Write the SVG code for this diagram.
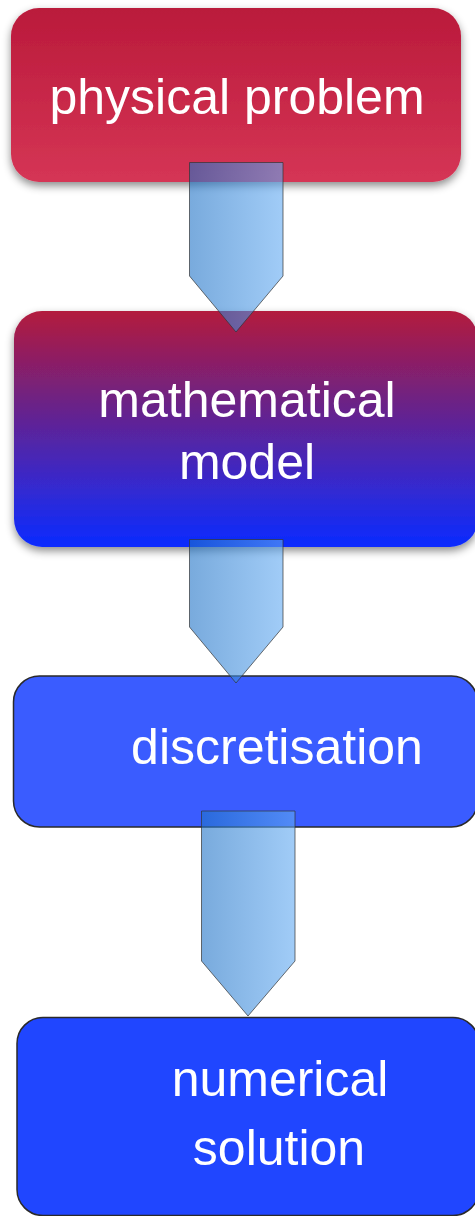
<svg xmlns="http://www.w3.org/2000/svg" width="475" height="1216" viewBox="0 0 475 1216">
<defs>
<linearGradient id="gRed" x1="0" y1="0" x2="0" y2="1">
<stop offset="0" stop-color="#ba1a3b"/>
<stop offset="1" stop-color="#d53555"/>
</linearGradient>
<linearGradient id="gMath" x1="0" y1="0" x2="0" y2="1">
<stop offset="0" stop-color="#b31b3d"/>
<stop offset="0.4" stop-color="#6a2288"/>
<stop offset="0.75" stop-color="#3429d0"/>
<stop offset="1" stop-color="#0a2cff"/>
</linearGradient>
<linearGradient id="gArrow" x1="0" y1="0" x2="1" y2="0">
<stop offset="0" stop-color="#1f72c6"/>
<stop offset="1" stop-color="#62aaf2"/>
</linearGradient>
<filter id="shadow" x="-10%" y="-10%" width="120%" height="130%">
<feDropShadow dx="0" dy="4" stdDeviation="4" flood-color="#000" flood-opacity="0.45"/>
</filter>
<style>
.lbl{font-family:"Liberation Sans",Arial,sans-serif;font-size:50px;fill:#fff;text-anchor:middle}
.arrow{fill:url(#gArrow);fill-opacity:0.6;stroke:#333;stroke-width:1;stroke-opacity:0.7}
.flat{stroke:#2a2a2a;stroke-width:1.5}
</style>
</defs>
<g id="node-physical">
<rect x="11" y="8" width="450" height="174" rx="28" fill="url(#gRed)" filter="url(#shadow)"/>
<text class="lbl" x="237" y="114">physical problem</text>
</g>
<g id="node-math">
<rect x="14" y="311" width="464" height="236" rx="28" fill="url(#gMath)" filter="url(#shadow)"/>
<text class="lbl" x="247" y="417">mathematical</text>
<text class="lbl" x="247" y="479">model</text>
</g>
<g id="node-disc">
<rect class="flat" x="13.5" y="676" width="464" height="151" rx="26" fill="#3a5cff"/>
<text class="lbl" x="277" y="764">discretisation</text>
</g>
<g id="node-num">
<rect class="flat" x="17" y="1017.5" width="462" height="198" rx="26" fill="#2046ff"/>
<text class="lbl" x="280" y="1096">numerical</text>
<text class="lbl" x="279" y="1165">solution</text>
</g>
<g id="connectors">
<polygon class="arrow" points="189.5,162.5 283,162.5 283,276 236,332 189.5,276"/>
<polygon class="arrow" points="189.5,539.5 283,539.5 283,627 236,683 189.5,627"/>
<polygon class="arrow" points="201.5,811 295,811 295,961 248,1016 201.5,961"/>
</g>
</svg>
